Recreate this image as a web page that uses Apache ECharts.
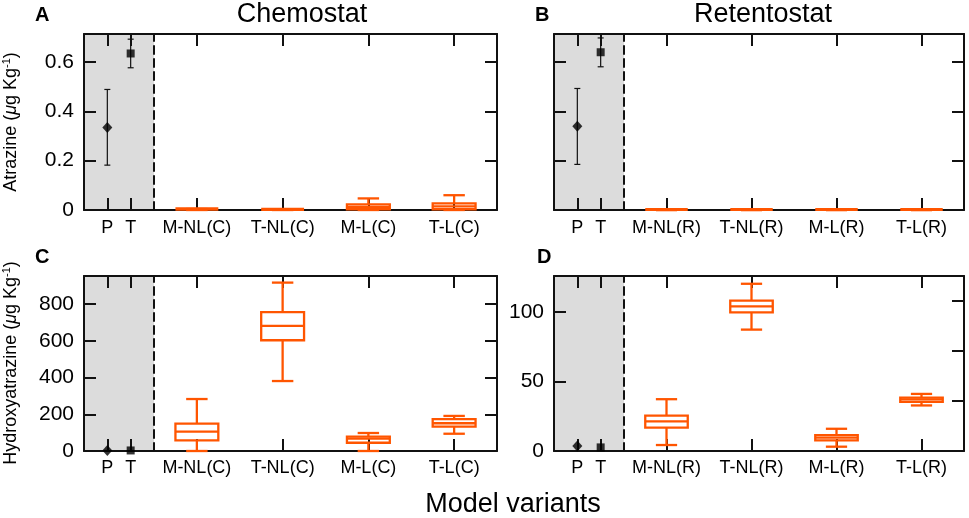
<!DOCTYPE html>
<html><head><meta charset="utf-8">
<script src="https://cdn.jsdelivr.net/npm/echarts@6/dist/echarts.min.js"></script>
<style>html,body{margin:0;padding:0;background:#fff}#c{width:969px;height:518px}</style>
</head><body><div id="c"></div>
<script>
// ---------- data ----------
const chemoCats = ['M-NL(C)', 'T-NL(C)', 'M-L(C)', 'T-L(C)'];
const retentoCats = ['M-NL(R)', 'T-NL(R)', 'M-L(R)', 'T-L(R)'];
const obsLabels = ['P', 'T'];
// observed atrazine: [mean, low, high] for P and T
const atrazineObsA = [[0.335, 0.182, 0.489], [0.635, 0.577, 0.693]];
const atrazineObsB = [[0.34, 0.185, 0.493], [0.64, 0.581, 0.698]];
// observed hydroxyatrazine: means for P and T
const hydroxyObsC = [3, 3];
const hydroxyObsD = [3.6, 2.6];
// box values: [min, q1, median, q3, max]
const atrazineBoxC = [[0, 0.001, 0.002, 0.003, 0.004], [0, 0.0005, 0.001, 0.0015, 0.002], [0, 0.003, 0.013, 0.023, 0.047], [0, 0.003, 0.015, 0.027, 0.06]];
const atrazineBoxR = [[0, 0, 0, 0, 0], [0, 0, 0, 0, 0], [0, 0, 0, 0, 0], [0, 0, 0, 0, 0]];
const hydroxyBoxC = [[0, 58, 105, 149, 283], [381, 603, 681, 756, 917], [0, 45, 67, 78, 98], [94, 133, 151, 174, 191]];
const hydroxyBoxR = [[4.3, 16.8, 21.3, 25.4, 37.3], [87.4, 99.8, 104.1, 108.2, 120.4], [3.1, 7.7, 9.6, 11.5, 16], [32.8, 35.4, 37.1, 38.5, 41.1]];
// tick values
const atrazineTicks = [0, 0.2, 0.4, 0.6];
const hydroxyCTicks = [0, 200, 400, 600, 800];
const hydroxyDTicks = [0, 50, 100];
const hydroxyDRightTicks = [36, 72, 108];

// ---------- layout / style ----------
const FONT = 'Liberation Sans, Arial, Helvetica, sans-serif';
const ORANGE = '#ff5500';
const INK = '#000000';
const GRAY = '#dcdcdc';

const panels = [
  { grayLeft: 84, mainLeft: 154, mainW: 343, top: 34, h: 176, yMax: 0.714, ticks: atrazineTicks, rightTicks: atrazineTicks,
    showLabels: true, fmt: v => v === 0 ? '0' : v.toFixed(1), cats: chemoCats, box: atrazineBoxC, obs: atrazineObsA, err: true, labelMargin: 9 },
  { grayLeft: 554, mainLeft: 624, mainW: 340, top: 34, h: 176, yMax: 0.714, ticks: atrazineTicks, rightTicks: atrazineTicks,
    showLabels: false, fmt: v => String(v), cats: retentoCats, box: atrazineBoxR, obs: atrazineObsB, err: true, labelMargin: 9 },
  { grayLeft: 84, mainLeft: 154, mainW: 343, top: 276, h: 175, yMax: 953, ticks: hydroxyCTicks, rightTicks: hydroxyCTicks,
    showLabels: true, fmt: v => String(v), cats: chemoCats, box: hydroxyBoxC, obs: hydroxyObsC.map(v => [v]), err: false, labelMargin: 8 },
  { grayLeft: 554, mainLeft: 624, mainW: 340, top: 276, h: 175, yMax: 126, ticks: hydroxyDTicks, rightTicks: hydroxyDRightTicks,
    showLabels: true, fmt: v => String(v), cats: retentoCats, box: hydroxyBoxR, obs: hydroxyObsD.map(v => [v]), err: false, labelMargin: 8 }
];

const grids = [], xAxes = [], yAxes = [], series = [];
const lineStyle = { color: '#111', width: 2 };
const tickStyle = { show: true, inside: true, length: 12, lineStyle: { color: '#111', width: 2 } };

function renderErr(params, api) {
  const x = api.value(0);
  const lo = api.coord([x, api.value(2)]);
  const hi = api.coord([x, api.value(3)]);
  const c = 3;
  const st = { stroke: '#111', lineWidth: 1.2 };
  return { type: 'group', children: [
    { type: 'line', shape: { x1: lo[0], y1: lo[1], x2: hi[0], y2: hi[1] }, style: st },
    { type: 'line', shape: { x1: lo[0] - c, y1: lo[1], x2: lo[0] + c, y2: lo[1] }, style: st },
    { type: 'line', shape: { x1: hi[0] - c, y1: hi[1], x2: hi[0] + c, y2: hi[1] }, style: st }
  ] };
}

function renderBox(params, api) {
  const idx = api.value(0);
  const lo = api.coord([idx, api.value(1)]);
  const q1 = api.coord([idx, api.value(2)]);
  const md = api.coord([idx, api.value(3)]);
  const q3 = api.coord([idx, api.value(4)]);
  const hi = api.coord([idx, api.value(5)]);
  const band = api.size([1, 0])[0];
  const bw = band * 0.25, cw = band * 0.125;
  const x = lo[0];
  const st = { stroke: ORANGE, lineWidth: 2.3, fill: 'none' };
  const h = q1[1] - q3[1];
  const children = [
    { type: 'line', shape: { x1: x, y1: q3[1], x2: x, y2: hi[1] }, style: st },
    { type: 'line', shape: { x1: x, y1: q1[1], x2: x, y2: lo[1] }, style: st },
    { type: 'line', shape: { x1: x - cw, y1: hi[1], x2: x + cw, y2: hi[1] }, style: st },
    { type: 'line', shape: { x1: x - cw, y1: lo[1], x2: x + cw, y2: lo[1] }, style: st }
  ];
  if (h < 2) {
    // a collapsed box shows as a thick flat bar
    children.push({ type: 'rect', shape: { x: x - bw, y: q1[1] - Math.max(h, 0) - 2, width: 2 * bw, height: Math.max(h, 0) + 3 },
      style: { fill: ORANGE, stroke: 'none' } });
  } else {
    children.push({ type: 'rect', shape: { x: x - bw, y: q3[1], width: 2 * bw, height: h }, style: st });
    children.push({ type: 'line', shape: { x1: x - bw, y1: md[1], x2: x + bw, y2: md[1] }, style: st });
  }
  return { type: 'group', children: children };
}

panels.forEach((p, i) => {
  const g0 = grids.length;
  grids.push({ left: p.grayLeft, top: p.top, width: p.mainLeft - p.grayLeft, height: p.h, show: true, backgroundColor: GRAY, borderWidth: 0 });
  grids.push({ left: p.mainLeft, top: p.top, width: p.mainW, height: p.h, show: false });
  const x0 = xAxes.length;
  const obsPos = obsLabels.map((_, k) => k + 1);
  xAxes.push({ type: 'value', gridIndex: g0, position: 'bottom', min: 0, max: obsLabels.length + 1,
    axisLine: { show: true, onZero: false, lineStyle }, splitLine: { show: false },
    axisTick: Object.assign({ customValues: obsPos }, tickStyle),
    axisLabel: { customValues: obsPos, formatter: v => obsLabels[Math.round(v) - 1] || '', color: INK, fontSize: 18, fontFamily: FONT, margin: p.labelMargin } });
  xAxes.push({ type: 'value', gridIndex: g0, position: 'top', min: 0, max: obsLabels.length + 1,
    axisLine: { show: true, onZero: false, lineStyle }, splitLine: { show: false },
    axisTick: Object.assign({ customValues: obsPos }, tickStyle), axisLabel: { show: false } });
  xAxes.push({ type: 'category', gridIndex: g0 + 1, position: 'bottom', data: p.cats,
    axisLine: { show: true, onZero: false, lineStyle }, splitLine: { show: false },
    axisTick: Object.assign({ alignWithLabel: true }, tickStyle),
    axisLabel: { interval: 0, color: INK, fontSize: 18, fontFamily: FONT, margin: p.labelMargin } });
  xAxes.push({ type: 'category', gridIndex: g0 + 1, position: 'top', data: p.cats,
    axisLine: { show: true, onZero: false, lineStyle }, splitLine: { show: false },
    axisTick: Object.assign({ alignWithLabel: true, interval: 0 }, tickStyle), axisLabel: { show: false } });
  const y0 = yAxes.length;
  yAxes.push({ type: 'value', gridIndex: g0, position: 'left', min: 0, max: p.yMax,
    axisLine: { show: true, onZero: false, lineStyle }, splitLine: { show: false },
    axisTick: Object.assign({ customValues: p.ticks }, tickStyle),
    axisLabel: { show: p.showLabels, customValues: p.ticks, formatter: p.fmt, color: INK, fontSize: 21, fontFamily: FONT, margin: 10 } });
  yAxes.push({ type: 'value', gridIndex: g0 + 1, position: 'left', min: 0, max: p.yMax,
    axisLine: { show: true, onZero: false, lineStyle: { color: '#111', width: 2, type: [8, 5] } },
    splitLine: { show: false }, axisTick: { show: false }, axisLabel: { show: false } });
  yAxes.push({ type: 'value', gridIndex: g0 + 1, position: 'right', min: 0, max: p.yMax,
    axisLine: { show: true, onZero: false, lineStyle }, splitLine: { show: false },
    axisTick: Object.assign({ customValues: p.rightTicks }, tickStyle), axisLabel: { show: false } });

  if (p.err) {
    series.push({ type: 'custom', xAxisIndex: x0, yAxisIndex: y0, renderItem: renderErr, z: 3,
      encode: { x: 0, y: [1, 2, 3] },
      data: p.obs.map((o, k) => [obsPos[k], o[0], o[1], o[2]]) });
  }
  series.push({ type: 'scatter', xAxisIndex: x0, yAxisIndex: y0, symbol: 'diamond', symbolSize: [10, 11], z: 4,
    itemStyle: { color: INK }, data: [[obsPos[0], p.obs[0][0]]] });
  series.push({ type: 'scatter', xAxisIndex: x0, yAxisIndex: y0, symbol: 'rect', symbolSize: 8, z: 4,
    itemStyle: { color: INK }, data: [[obsPos[1], p.obs[1][0]]] });
  series.push({ type: 'custom', xAxisIndex: x0 + 2, yAxisIndex: y0 + 1, renderItem: renderBox, z: 3,
    encode: { x: 0, y: [1, 2, 3, 4, 5] },
    data: p.box.map((b, k) => [k].concat(b)) });
});

function yName(text, x, y) {
  return { type: 'text', x: x, y: y, rotation: Math.PI / 2, z: 10,
    style: { text: '{a|' + text + ' (}{mu|μ}{a|g Kg}{sup|-1}{a|)}', align: 'center', verticalAlign: 'middle',
      rich: { a: { fontSize: 18, fontFamily: FONT, fill: INK, lineHeight: 20 },
              mu: { fontSize: 18, fontFamily: FONT, fontStyle: 'italic', fill: INK, lineHeight: 20 },
              sup: { fontSize: 11, fontFamily: FONT, fill: INK, verticalAlign: 'top', lineHeight: 11 } } } };
}
function txt(text, x, y, size, weight, align) {
  return { type: 'text', x: x, y: y, z: 10,
    style: { text: text, fontSize: size, fontWeight: weight || 'normal', fontFamily: FONT, fill: INK,
      align: align || 'center', verticalAlign: 'middle' } };
}

const chart = echarts.init(document.getElementById('c'), null, { renderer: 'canvas' });
chart.setOption({
  animation: false,
  backgroundColor: '#fff',
  grid: grids, xAxis: xAxes, yAxis: yAxes, series: series,
  graphic: [
    txt('Chemostat', 302, 15, 27),
    txt('Retentostat', 763, 15, 27),
    txt('Model variants', 513, 505, 27),
    txt('A', 35, 15, 20, 'bold', 'left'),
    txt('B', 535, 15, 20, 'bold', 'left'),
    txt('C', 35, 257, 20, 'bold', 'left'),
    txt('D', 537, 257, 20, 'bold', 'left'),
    yName('Atrazine', 11, 122),
    yName('Hydroxyatrazine', 11, 363)
  ]
});
</script></body></html>
